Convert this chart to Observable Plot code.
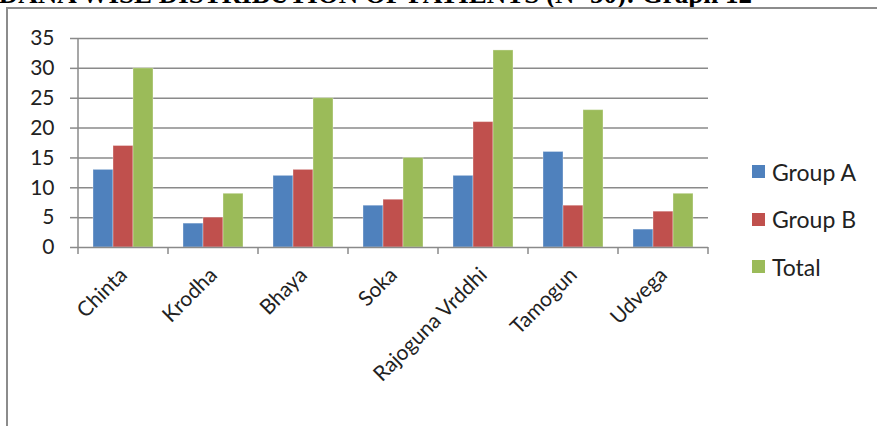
<!DOCTYPE html>
<html>
<head>
<meta charset="utf-8">
<script src="https://cdn.jsdelivr.net/npm/d3@7"></script>
<script src="https://cdn.jsdelivr.net/npm/@observablehq/plot@0.6"></script>
<style>
  html, body { margin: 0; padding: 0; background: #fff; }
  #wrap { position: relative; width: 877px; height: 426px; overflow: hidden; }
  #title { position: absolute; right: 125px; top: -19px; white-space: nowrap;
    font-family: "Liberation Serif", "DejaVu Serif", serif; font-weight: bold; font-size: 27px; line-height: 27px; color: #000; }
  #frame { position: absolute; left: 6px; top: 7px; width: 880px; height: 430px;
    border-left: 2px solid #8c8c8c; border-top: 2px solid #8c8c8c; }
  #chart { position: absolute; left: 0; top: 0; }
  #legend { position: absolute; left: 752px; top: 148px; font-family: Lato, "Open Sans", sans-serif; font-size: 23px; color: #222; }
  .li { display: flex; align-items: center; height: 47.5px; }
  .sw { width: 13px; height: 13px; margin-right: 7px; }
</style>
</head>
<body>
<div id="wrap">
  <div id="title">NIDANA WISE DISTRIBUTION OF PATIENTS (N=50): Graph 12</div>
  <div id="frame"></div>
  <div id="chart"></div>
  <div id="legend"></div>
</div>
<script>
const categories = ["Chinta", "Krodha", "Bhaya", "Soka", "Rajoguna Vrddhi", "Tamogun", "Udvega"];
const series = ["Group A", "Group B", "Total"];
const groupA = [13, 4, 12, 7, 12, 16, 3];
const groupB = [17, 5, 13, 8, 21, 7, 6];
const total = [30, 9, 25, 15, 33, 23, 9];
const colors = ["#4F81BD", "#C0504D", "#9BBB59"];
const yTicks = [0, 5, 10, 15, 20, 25, 30, 35];

const seriesValues = [groupA, groupB, total];
const data = [];
categories.forEach((c, i) => {
  series.forEach((s, j) => data.push({cat: c, series: s, value: seriesValues[j][i]}));
});

const font = "Lato, 'Open Sans', sans-serif";
const gridColor = "#8a8a8a";

const plot = Plot.plot({
  width: 877,
  height: 426,
  marginLeft: 76,
  marginRight: 167,
  marginTop: 38,
  marginBottom: 179,
  style: {fontFamily: font, fontSize: "21px", color: "#222", background: "transparent", overflow: "visible"},
  fx: {domain: categories, padding: 0, label: null, axis: null},
  x: {domain: series, paddingInner: 0, paddingOuter: 0.74, axis: null},
  y: {domain: [0, 35], label: null},
  color: {domain: series, range: colors},
  marks: [
    Plot.gridY(yTicks.filter(d => d > 0), {stroke: gridColor, strokeOpacity: 1, strokeWidth: 1.5}),
    Plot.barY(data, {fx: "cat", x: "series", y: "value", fill: "series", stroke: "#ffffff", strokeOpacity: 0.35, strokeWidth: 1}),
    Plot.ruleY([0], {stroke: gridColor, strokeWidth: 1.5}),
    Plot.axisY(yTicks, {tickSize: 8, tickPadding: 16, stroke: gridColor, strokeWidth: 1.5, fontSize: 21, label: null}),
    Plot.axisFx({anchor: "bottom", tickSize: 0, tickRotate: -45, tickPadding: 24, fontSize: 21, label: null})
  ]
});
document.getElementById("chart").appendChild(plot);

// Category boundary ticks and vertical axis line, positioned with the fx / y scales
const fx = plot.scale("fx");
const y = plot.scale("y");
const svg = d3.select(plot);
const y0 = y.apply(0), yTop = y.apply(35);
const bounds = categories.map(c => fx.apply(c));
bounds.push(fx.apply(categories[categories.length - 1]) + fx.bandwidth);
const g = svg.append("g").attr("stroke", gridColor).attr("stroke-width", 1.5);
bounds.forEach(b => g.append("line").attr("x1", b).attr("x2", b).attr("y1", y0).attr("y2", y0 + 7));
g.append("line").attr("x1", bounds[0]).attr("x2", bounds[0]).attr("y1", yTop).attr("y2", y0);

// Legend
const legend = d3.select("#legend");
series.forEach((s, i) => {
  const row = legend.append("div").attr("class", "li");
  row.append("div").attr("class", "sw").style("background", colors[i]);
  row.append("span").text(s);
});
</script>
</body>
</html>
